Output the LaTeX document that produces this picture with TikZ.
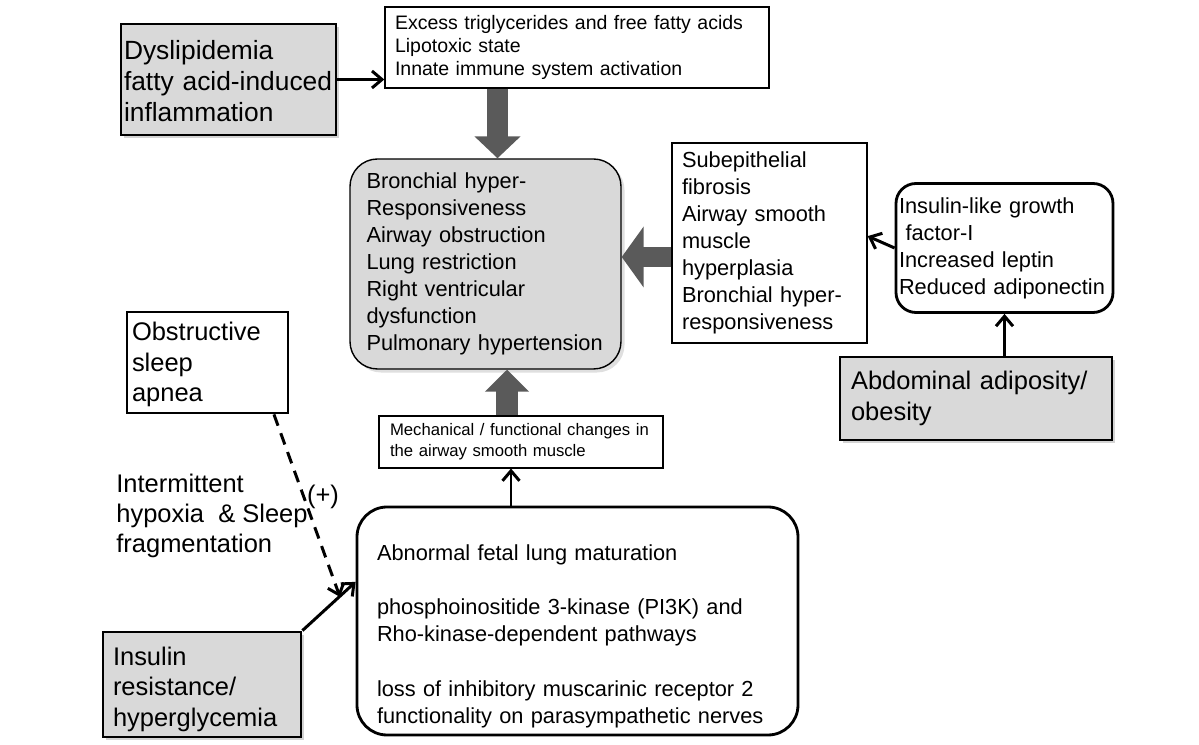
\documentclass[tikz,border=0pt]{standalone}
\usepackage{fontspec}
\setmainfont{Liberation Sans}
\usetikzlibrary{arrows.meta, positioning, shadows}
\definecolor{boxgray}{RGB}{217, 217, 217}
\definecolor{fatgray}{RGB}{90, 90, 90}

\begin{document}
\begin{tikzpicture}[font=\fontsize{12.4}{15.4}\selectfont,
        bigfont/.style={font=\fontsize{14.5}{17.3}\selectfont},
        causebox/.style={rectangle, draw=black, line width=1.6pt, fill=boxgray, bigfont,
                     drop shadow={opacity=0.35, shadow xshift=1.5pt, shadow yshift=-1.5pt},
                     align=left, inner ysep=0pt},
        plainbox/.style={rectangle, draw=black, line width=0.8pt, fill=white, align=left, inner ysep=0pt},
        roundbox/.style={rectangle, rounded corners=0.5cm, draw=black, line width=1.6pt, fill=white,
                     align=left, inner ysep=0pt},
        fatarrow/.style={line width=0.42cm, draw=fatgray, -{Triangle[length=0.44cm, width=#1]}},
        fatarrow/.default=0.9cm,
        link/.style={line width=1.7pt, -{Straight Barb[length=2mm, width=3.4mm]}}
    ]
        \useasboundingbox (0,0) rectangle (23.98,14.9);
        % causes
        \node[causebox, font=\fontsize{15}{17.6}\selectfont, inner xsep=0.06cm, text width=4.18cm, minimum height=2.22cm] (dyslip) at (4.57,13.31)
            {\rule{0pt}{13pt}Dyslipidemia\\fatty acid-induced\\inflammation};
        \node[causebox, inner xsep=0.22cm, text width=5.0cm, minimum height=1.66cm] (abd) at (19.52,6.93)
            {Abdominal adiposity/\\obesity};
        \node[causebox, inner xsep=0.2cm, text width=3.56cm, minimum height=2.1cm] (ins) at (4.04,1.21)
            {\rule{0pt}{16pt}Insulin\\resistance/\\hyperglycemia};
        \node[plainbox, bigfont, line width=1.6pt, inner xsep=0.1cm, text width=3.02cm, minimum height=2.02cm] (osa) at (4.15,7.65)
            {\rule{0pt}{13pt}Obstructive\\sleep\\apnea};
        % mechanisms
        \node[plainbox, font=\fontsize{11.1}{13.3}\selectfont, inner xsep=0.2cm, text width=7.28cm, minimum height=1.62cm] (top) at (11.54,13.95)
            {Excess triglycerides and free fatty acids\\Lipotoxic state\\Innate immune system activation};
        \node[plainbox, inner xsep=0.2cm, text width=3.5cm, minimum height=4.0cm] (right) at (15.39,10.04)
            {Subepithelial\\fibrosis\\Airway smooth\\muscle\\hyperplasia\\Bronchial hyper-\\responsiveness};
        \node[roundbox, rounded corners=0.4cm, inner xsep=0.06cm, text width=4.22cm, minimum height=2.58cm] (igf) at (20.09,9.94)
            {Insulin-like growth\\\hspace*{0.3em}factor-I\\Increased leptin\\Reduced adiponectin\\[-8pt]};
        \node[plainbox, font=\fontsize{9.5}{11.9}\selectfont, line width=0.6pt, inner xsep=0.22cm, text width=5.24cm, minimum height=1.04cm] (mech) at (10.42,6.06)
            {Mechanical / functional changes in\\the airway smooth muscle};
        \node[roundbox, rounded corners=0.6cm, inner xsep=0.4cm, text width=8.02cm, minimum height=4.56cm] (fetal) at (11.55,2.48)
            {\rule{0pt}{26pt}Abnormal fetal lung maturation\\[15.6pt]phosphoinositide 3-kinase (PI3K) and\\Rho-kinase-dependent pathways\\[15.6pt]loss of inhibitory muscarinic receptor 2\\functionality on parasympathetic nerves};
        % outcome
        \node[roundbox, rounded corners=0.55cm, line width=0.8pt, fill=boxgray, inner xsep=0.33cm, text width=4.76cm, minimum height=4.2cm,
              drop shadow={opacity=0.25, shadow xshift=2pt, shadow yshift=-2pt}] (lung) at (9.71,9.62)
            {Bronchial hyper-\\Responsiveness\\Airway obstruction\\Lung restriction\\Right ventricular\\dysfunction\\Pulmonary hypertension};
        \node[bigfont, align=left, anchor=west, inner sep=0pt] (hypoxia) at (2.32,4.58)
            {Intermittent\\hypoxia \ \& Sleep\\fragmentation};
        \node[bigfont, inner sep=0pt] (plus) at (6.46,4.96) {(+)};

        % block arrows into the outcome
        \coordinate (downx) at (9.95,0);
        \coordinate (leftx) at (0,9.76);
        \coordinate (upx) at (10.14,0);
        \draw[fatarrow] (downx |- top.south) -- (downx |- lung.north);
        \draw[fatarrow=1.2cm, line width=0.4cm] (right.west |- leftx) -- (lung.east |- leftx);
        \draw[fatarrow=0.86cm, line width=0.44cm] (upx |- mech.north) -- (upx |- lung.south);

        % thin links
        \coordinate (upline) at (10.22,0);
        \coordinate (meet) at (6.80,2.96);
        \draw[link] (dyslip.east) -- (dyslip.east -| top.west);
        \draw[link] (igf.south |- abd.north) -- (igf.south);
        \draw[link] (upline |- fetal.north) -- (upline |- mech.south);
        \foreach \a/\b in {igf.west/right.4, ins.north east/fetal.170}
            \draw[link] (\a) -- (\b);
        \draw[link, dash pattern=on 0.24cm off 0.16cm] (osa.-38) -- (meet);
    \end{tikzpicture}
\end{document}
